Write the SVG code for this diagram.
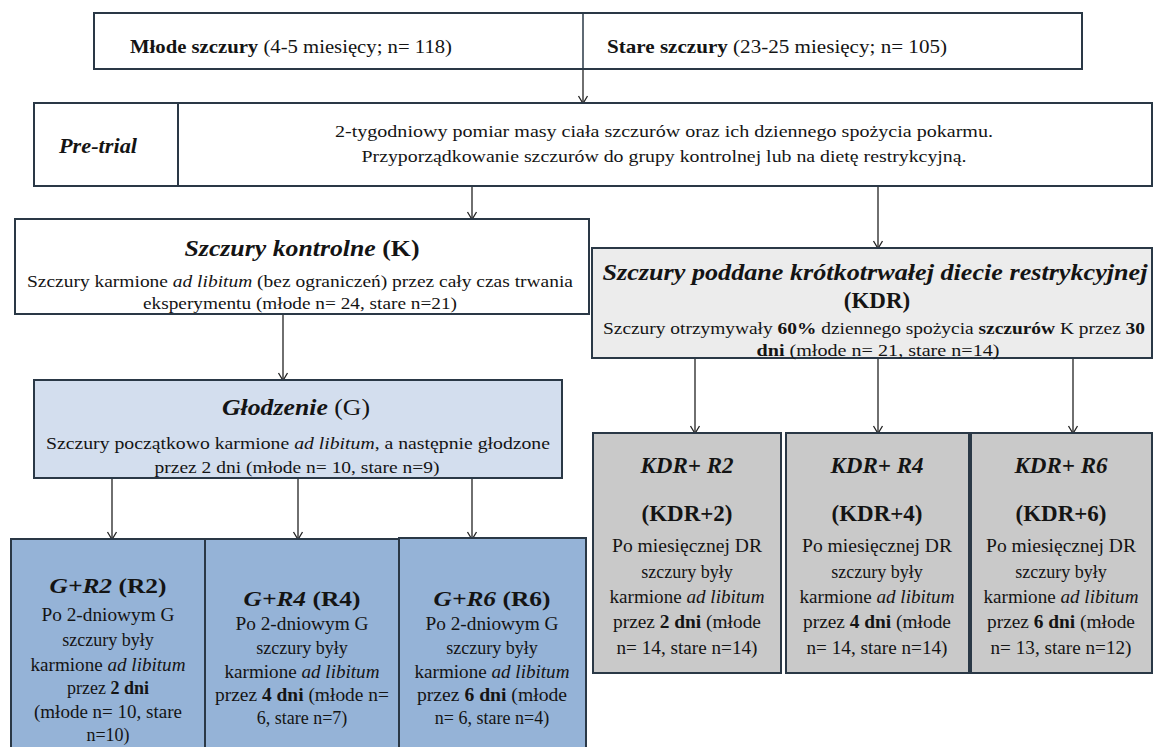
<svg xmlns="http://www.w3.org/2000/svg" width="1159" height="747" viewBox="0 0 1159 747" font-family="'Liberation Serif', serif">
<style>
.box{stroke:#2a3846;stroke-width:2}
.w{fill:#ffffff}
.kdr{fill:#ececec}
.g{fill:#d3deee}
.gb{fill:#95b3d7}
.kb{fill:#c9c9c9}
text{font-family:'Liberation Serif',serif;fill:#141414;text-anchor:middle}
.bi{font-weight:bold;font-style:italic}
.b{font-weight:bold}
.i{font-style:italic}
.conn line{stroke:#222;stroke-width:1.3;fill:none}
</style>
<defs>
<marker id="v" markerUnits="userSpaceOnUse" markerWidth="12" markerHeight="12" refX="6" refY="10" orient="0" viewBox="0 0 12 12">
<polyline points="1.5,3 6,10.5 10.5,3" fill="none" stroke="#222" stroke-width="1.3"/>
</marker>
</defs>
<rect width="1159" height="747" fill="#ffffff"/>

<g id="connectors" class="conn">
<line x1="583" y1="69" x2="583" y2="103" marker-end="url(#v)"/>
<line x1="472" y1="186" x2="472" y2="219" marker-end="url(#v)"/>
<line x1="878" y1="186" x2="878" y2="248" marker-end="url(#v)"/>
<line x1="283" y1="314" x2="283" y2="380" marker-end="url(#v)"/>
<line x1="112" y1="478" x2="112" y2="539" marker-end="url(#v)"/>
<line x1="298" y1="478" x2="298" y2="539" marker-end="url(#v)"/>
<line x1="472" y1="478" x2="472" y2="539" marker-end="url(#v)"/>
<line x1="695" y1="358" x2="695" y2="433" marker-end="url(#v)"/>
<line x1="878" y1="358" x2="878" y2="433" marker-end="url(#v)"/>
<line x1="1073" y1="358" x2="1073" y2="433" marker-end="url(#v)"/>
</g>

<g id="groups">
<rect class="box w" x="94" y="13" width="988" height="56"/>
<line x1="583" y1="13" x2="583" y2="69" stroke="#2a3846" stroke-width="1.5"/>
<text x="291" y="53" font-size="19" textLength="322" lengthAdjust="spacingAndGlyphs"><tspan class="b">Młode szczury</tspan> (4-5 miesięcy; n= 118)</text>
<text x="777" y="53" font-size="19" textLength="340" lengthAdjust="spacingAndGlyphs"><tspan class="b">Stare szczury</tspan> (23-25 miesięcy; n= 105)</text>
</g>

<g id="pretrial">
<rect class="box w" x="34" y="103" width="1118" height="83"/>
<line x1="178" y1="103" x2="178" y2="186" stroke="#2a3846" stroke-width="2"/>
<text x="98" y="153" font-size="21" class="bi" textLength="78" lengthAdjust="spacingAndGlyphs">Pre-trial</text>
<text x="664" y="137" font-size="16" textLength="658" lengthAdjust="spacingAndGlyphs">2-tygodniowy pomiar masy ciała szczurów oraz ich dziennego spożycia pokarmu.</text>
<text x="664" y="162" font-size="16" textLength="605" lengthAdjust="spacingAndGlyphs">Przyporządkowanie szczurów  do grupy kontrolnej lub na dietę restrykcyjną.</text>
</g>

<g id="K">
<rect class="box w" x="15" y="219" width="574" height="95"/>
<text x="302" y="256" font-size="23" textLength="235" lengthAdjust="spacingAndGlyphs"><tspan class="bi">Szczury kontrolne</tspan><tspan class="b"> (K)</tspan></text>
<text x="300" y="287" font-size="17" textLength="546" lengthAdjust="spacingAndGlyphs">Szczury karmione <tspan class="i">ad libitum</tspan> (bez ograniczeń) przez cały czas trwania</text>
<text x="300" y="309" font-size="17" textLength="314" lengthAdjust="spacingAndGlyphs">eksperymentu (młode n= 24, stare n=21)</text>
</g>

<g id="KDR">
<rect class="box kdr" x="592" y="248" width="560" height="110"/>
<text x="875" y="280" font-size="23" class="bi" textLength="545" lengthAdjust="spacingAndGlyphs">Szczury poddane krótkotrwałej diecie restrykcyjnej</text>
<text x="877" y="308" font-size="23" class="b">(KDR)</text>
<text x="874" y="334" font-size="17" textLength="542" lengthAdjust="spacingAndGlyphs">Szczury otrzymywały <tspan class="b">60%</tspan> dziennego spożycia <tspan class="b">szczurów</tspan> K przez <tspan class="b">30</tspan></text>
<text x="878" y="356" font-size="17" textLength="243" lengthAdjust="spacingAndGlyphs"><tspan class="b">dni</tspan>  (młode n= 21, stare n=14)</text>
</g>

<g id="G">
<rect class="box g" x="34" y="380" width="528" height="98"/>
<text x="296" y="415" font-size="23" textLength="148" lengthAdjust="spacingAndGlyphs"><tspan class="bi">Głodzenie</tspan> (G)</text>
<text x="298" y="449" font-size="17" textLength="504" lengthAdjust="spacingAndGlyphs">Szczury początkowo karmione <tspan class="i">ad libitum</tspan>, a następnie głodzone</text>
<text x="297" y="473" font-size="17" textLength="285" lengthAdjust="spacingAndGlyphs">przez 2 dni (młode n= 10, stare n=9)</text>
</g>

<g id="R2">
<rect class="box gb" x="11" y="539" width="194" height="220"/>
<text x="108" y="593" font-size="22" textLength="117" lengthAdjust="spacingAndGlyphs"><tspan class="bi">G+R2</tspan><tspan class="b"> (R2)</tspan></text>
<text x="108" y="621" font-size="18" textLength="133" lengthAdjust="spacingAndGlyphs">Po 2-dniowym G</text>
<text x="108" y="646" font-size="18">szczury były</text>
<text x="108" y="671" font-size="18" textLength="155" lengthAdjust="spacingAndGlyphs">karmione <tspan class="i">ad libitum</tspan></text>
<text x="108" y="694" font-size="18">przez <tspan class="b">2 dni</tspan></text>
<text x="108" y="718" font-size="18" textLength="148" lengthAdjust="spacingAndGlyphs">(młode n= 10, stare</text>
<text x="108" y="741" font-size="18">n=10)</text>
</g>

<g id="R4">
<rect class="box gb" x="205" y="539" width="194" height="220"/>
<text x="302" y="606" font-size="22" textLength="117" lengthAdjust="spacingAndGlyphs"><tspan class="bi">G+R4</tspan><tspan class="b"> (R4)</tspan></text>
<text x="302" y="630" font-size="18" textLength="133" lengthAdjust="spacingAndGlyphs">Po 2-dniowym G</text>
<text x="302" y="654" font-size="18">szczury były</text>
<text x="302" y="678" font-size="18" textLength="155" lengthAdjust="spacingAndGlyphs">karmione <tspan class="i">ad libitum</tspan></text>
<text x="302" y="701" font-size="18" textLength="174" lengthAdjust="spacingAndGlyphs">przez <tspan class="b">4 dni</tspan> (młode n=</text>
<text x="302" y="724" font-size="18">6, stare n=7)</text>
</g>

<g id="R6">
<rect class="box gb" x="399" y="538" width="187" height="221"/>
<text x="492" y="606" font-size="22" textLength="117" lengthAdjust="spacingAndGlyphs"><tspan class="bi">G+R6</tspan><tspan class="b"> (R6)</tspan></text>
<text x="492" y="630" font-size="18" textLength="133" lengthAdjust="spacingAndGlyphs">Po 2-dniowym G</text>
<text x="492" y="654" font-size="18">szczury były</text>
<text x="492" y="678" font-size="18" textLength="155" lengthAdjust="spacingAndGlyphs">karmione <tspan class="i">ad libitum</tspan></text>
<text x="492" y="701" font-size="18" textLength="150" lengthAdjust="spacingAndGlyphs">przez <tspan class="b">6 dni</tspan> (młode</text>
<text x="492" y="724" font-size="18">n= 6, stare n=4)</text>
</g>

<g id="KDR2">
<rect class="box kb" x="593" y="433" width="188" height="240"/>
<text x="687" y="473" font-size="23" class="bi">KDR+ R2</text>
<text x="687" y="521" font-size="23" class="b">(KDR+2)</text>
<text x="687" y="552" font-size="18" textLength="150" lengthAdjust="spacingAndGlyphs">Po miesięcznej DR</text>
<text x="687" y="578" font-size="18">szczury były</text>
<text x="687" y="603" font-size="18" textLength="155" lengthAdjust="spacingAndGlyphs">karmione <tspan class="i">ad libitum</tspan></text>
<text x="687" y="628" font-size="18" textLength="148" lengthAdjust="spacingAndGlyphs">przez <tspan class="b">2 dni</tspan> (młode</text>
<text x="687" y="654" font-size="18" textLength="141" lengthAdjust="spacingAndGlyphs">n= 14, stare n=14)</text>
</g>

<g id="KDR4">
<rect class="box kb" x="786" y="433" width="183" height="240"/>
<text x="877" y="473" font-size="23" class="bi">KDR+ R4</text>
<text x="877" y="521" font-size="23" class="b">(KDR+4)</text>
<text x="877" y="552" font-size="18" textLength="150" lengthAdjust="spacingAndGlyphs">Po miesięcznej DR</text>
<text x="877" y="578" font-size="18">szczury były</text>
<text x="877" y="603" font-size="18" textLength="155" lengthAdjust="spacingAndGlyphs">karmione <tspan class="i">ad libitum</tspan></text>
<text x="877" y="628" font-size="18" textLength="148" lengthAdjust="spacingAndGlyphs">przez <tspan class="b">4 dni</tspan> (młode</text>
<text x="877" y="654" font-size="18" textLength="141" lengthAdjust="spacingAndGlyphs">n= 14, stare n=14)</text>
</g>

<g id="KDR6">
<rect class="box kb" x="971" y="433" width="181" height="240"/>
<text x="1061" y="473" font-size="23" class="bi">KDR+ R6</text>
<text x="1061" y="521" font-size="23" class="b">(KDR+6)</text>
<text x="1061" y="552" font-size="18" textLength="150" lengthAdjust="spacingAndGlyphs">Po miesięcznej DR</text>
<text x="1061" y="578" font-size="18">szczury były</text>
<text x="1061" y="603" font-size="18" textLength="155" lengthAdjust="spacingAndGlyphs">karmione <tspan class="i">ad libitum</tspan></text>
<text x="1061" y="628" font-size="18" textLength="148" lengthAdjust="spacingAndGlyphs">przez <tspan class="b">6 dni</tspan> (młode</text>
<text x="1061" y="654" font-size="18" textLength="141" lengthAdjust="spacingAndGlyphs">n= 13, stare n=12)</text>
</g>
</svg>
